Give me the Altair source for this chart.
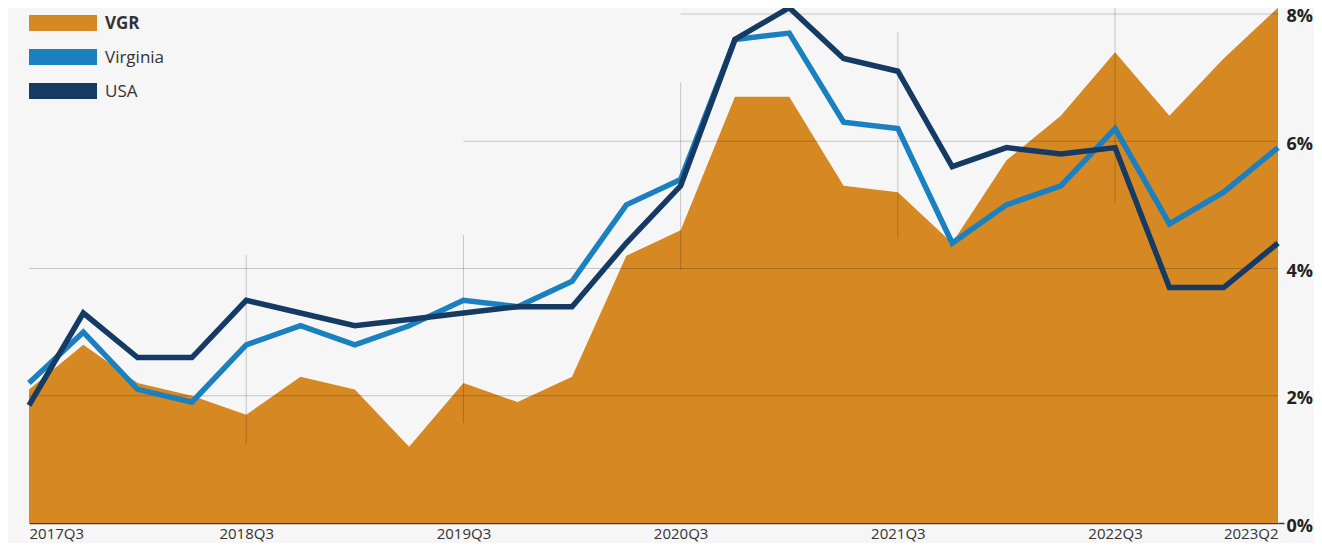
import altair as alt
import pandas as pd

quarters = ["2017Q3", "2017Q4", "2018Q1", "2018Q2", "2018Q3", "2018Q4", "2019Q1", "2019Q2",
            "2019Q3", "2019Q4", "2020Q1", "2020Q2", "2020Q3", "2020Q4", "2021Q1", "2021Q2",
            "2021Q3", "2021Q4", "2022Q1", "2022Q2", "2022Q3", "2022Q4", "2023Q1", "2023Q2"]
vgr = [2.1, 2.8, 2.2, 2.0, 1.7, 2.3, 2.1, 1.2, 2.2, 1.9, 2.3, 4.2,
       4.6, 6.7, 6.7, 5.3, 5.2, 4.4, 5.7, 6.4, 7.4, 6.4, 7.3, 8.1]
virginia = [2.2, 3.0, 2.1, 1.9, 2.8, 3.1, 2.8, 3.1, 3.5, 3.4, 3.8, 5.0,
            5.4, 7.6, 7.7, 6.3, 6.2, 4.4, 5.0, 5.3, 6.2, 4.7, 5.2, 5.9]
usa = [1.85, 3.3, 2.6, 2.6, 3.5, 3.3, 3.1, 3.2, 3.3, 3.4, 3.4, 4.4,
       5.3, 7.6, 8.1, 7.3, 7.1, 5.6, 5.9, 5.8, 5.9, 3.7, 3.7, 4.4]

series = ["VGR", "Virginia", "USA"]
colors = ["#D68823", "#1A80C0", "#153A64"]

tick_idx = [0, 4, 8, 12, 16, 20, 23]
y_ticks = [0, 2, 4, 6, 8]

# decorative partial gridlines
h_grid_val = [2, 4, 6, 8]
h_grid_from = [0, 0, 8, 12]
h_grid_to = [23, 23, 23, 23]
v_grid_idx = [4, 8, 12, 16, 20]
v_grid_lo = [1.25, 1.57, 3.98, 4.47, 5.03]
v_grid_hi = [4.21, 4.53, 6.93, 7.72, 8.2]

FONT = "Open Sans"

df = pd.DataFrame({"idx": list(range(len(quarters))), "quarter": quarters,
                   "VGR": vgr, "Virginia": virginia, "USA": usa})
hdf = pd.DataFrame({"v": h_grid_val, "x0": h_grid_from, "x1": h_grid_to})
vdf = pd.DataFrame({"i": v_grid_idx, "lo": v_grid_lo, "hi": v_grid_hi})

label_arr = "[" + ",".join("'%s'" % q for q in quarters) + "]"

xscale = alt.Scale(domain=[0, len(quarters) - 1], nice=False, zero=False)
yscale = alt.Scale(domain=[0, 8.047], nice=False)

x_axis = alt.Axis(values=tick_idx, labelExpr=label_arr + "[datum.value]", labelFlush=True,
                  ticks=False, grid=False, domain=True, domainColor="#3a3a3a", domainWidth=1.5,
                  labelFont=FONT, labelFontSize=15, labelColor="#333333", labelPadding=3,
                  title=None)
y_axis = alt.Axis(orient="right", values=y_ticks, labelExpr="datum.value + '%'",
                  grid=False, domain=False, ticks=True, tickSize=6, tickColor="#3a3a3a",
                  tickWidth=1.5,
                  tickOpacity={"condition": {"test": "datum.value == 0", "value": 1}, "value": 0},
                  labelFont=FONT, labelFontSize=18, labelFontWeight="bold",
                  labelColor="#222222", labelPadding=2, labelOffset=3, title=None)

base = alt.Chart(df)

area = base.mark_area(color=colors[0]).encode(
    x=alt.X("idx:Q", scale=xscale, axis=x_axis),
    y=alt.Y("VGR:Q", scale=yscale, axis=y_axis),
)

hgrid = alt.Chart(hdf).mark_rule(color="#000000", opacity=0.2, strokeWidth=1).encode(
    x=alt.X("x0:Q", scale=xscale), x2="x1:Q", y=alt.Y("v:Q", scale=yscale))
vgrid = alt.Chart(vdf).mark_rule(color="#000000", opacity=0.2, strokeWidth=1).encode(
    x=alt.X("i:Q", scale=xscale), y=alt.Y("lo:Q", scale=yscale), y2="hi:Q")

line_va = base.mark_line(color=colors[1], strokeWidth=5.5, strokeJoin="miter").encode(
    x=alt.X("idx:Q", scale=xscale), y=alt.Y("Virginia:Q", scale=yscale))
line_us = base.mark_line(color=colors[2], strokeWidth=5.5, strokeJoin="miter").encode(
    x=alt.X("idx:Q", scale=xscale), y=alt.Y("USA:Q", scale=yscale))

# legend (top-left)
legend_layers = []
centers = [12, 46, 80]
for name, col, cy in zip(series, colors, centers):
    ldf = pd.DataFrame({"name": [name]})
    legend_layers.append(alt.Chart(ldf).mark_rect(color=col).encode(
        x=alt.value(0), x2=alt.value(68), y=alt.value(cy - 8), y2=alt.value(cy + 8)))
    legend_layers.append(alt.Chart(ldf).mark_text(
        align="left", baseline="middle", font=FONT, fontSize=17, color="#333333",
        fontWeight="bold" if name == "VGR" else "normal").encode(
        x=alt.value(76), y=alt.value(cy + 1), text="name:N"))

chart = alt.layer(area, hgrid, vgrid, line_va, line_us, *legend_layers).properties(
    width=1249, height=512,
    autosize=alt.AutoSizeParams(type="none"),
    padding={"left": 21, "top": 3, "right": 36, "bottom": 20},
    background="#F6F6F6",
).configure_view(stroke=None)

chart.save("out.html", embed_options={"renderer": "svg", "actions": False})
